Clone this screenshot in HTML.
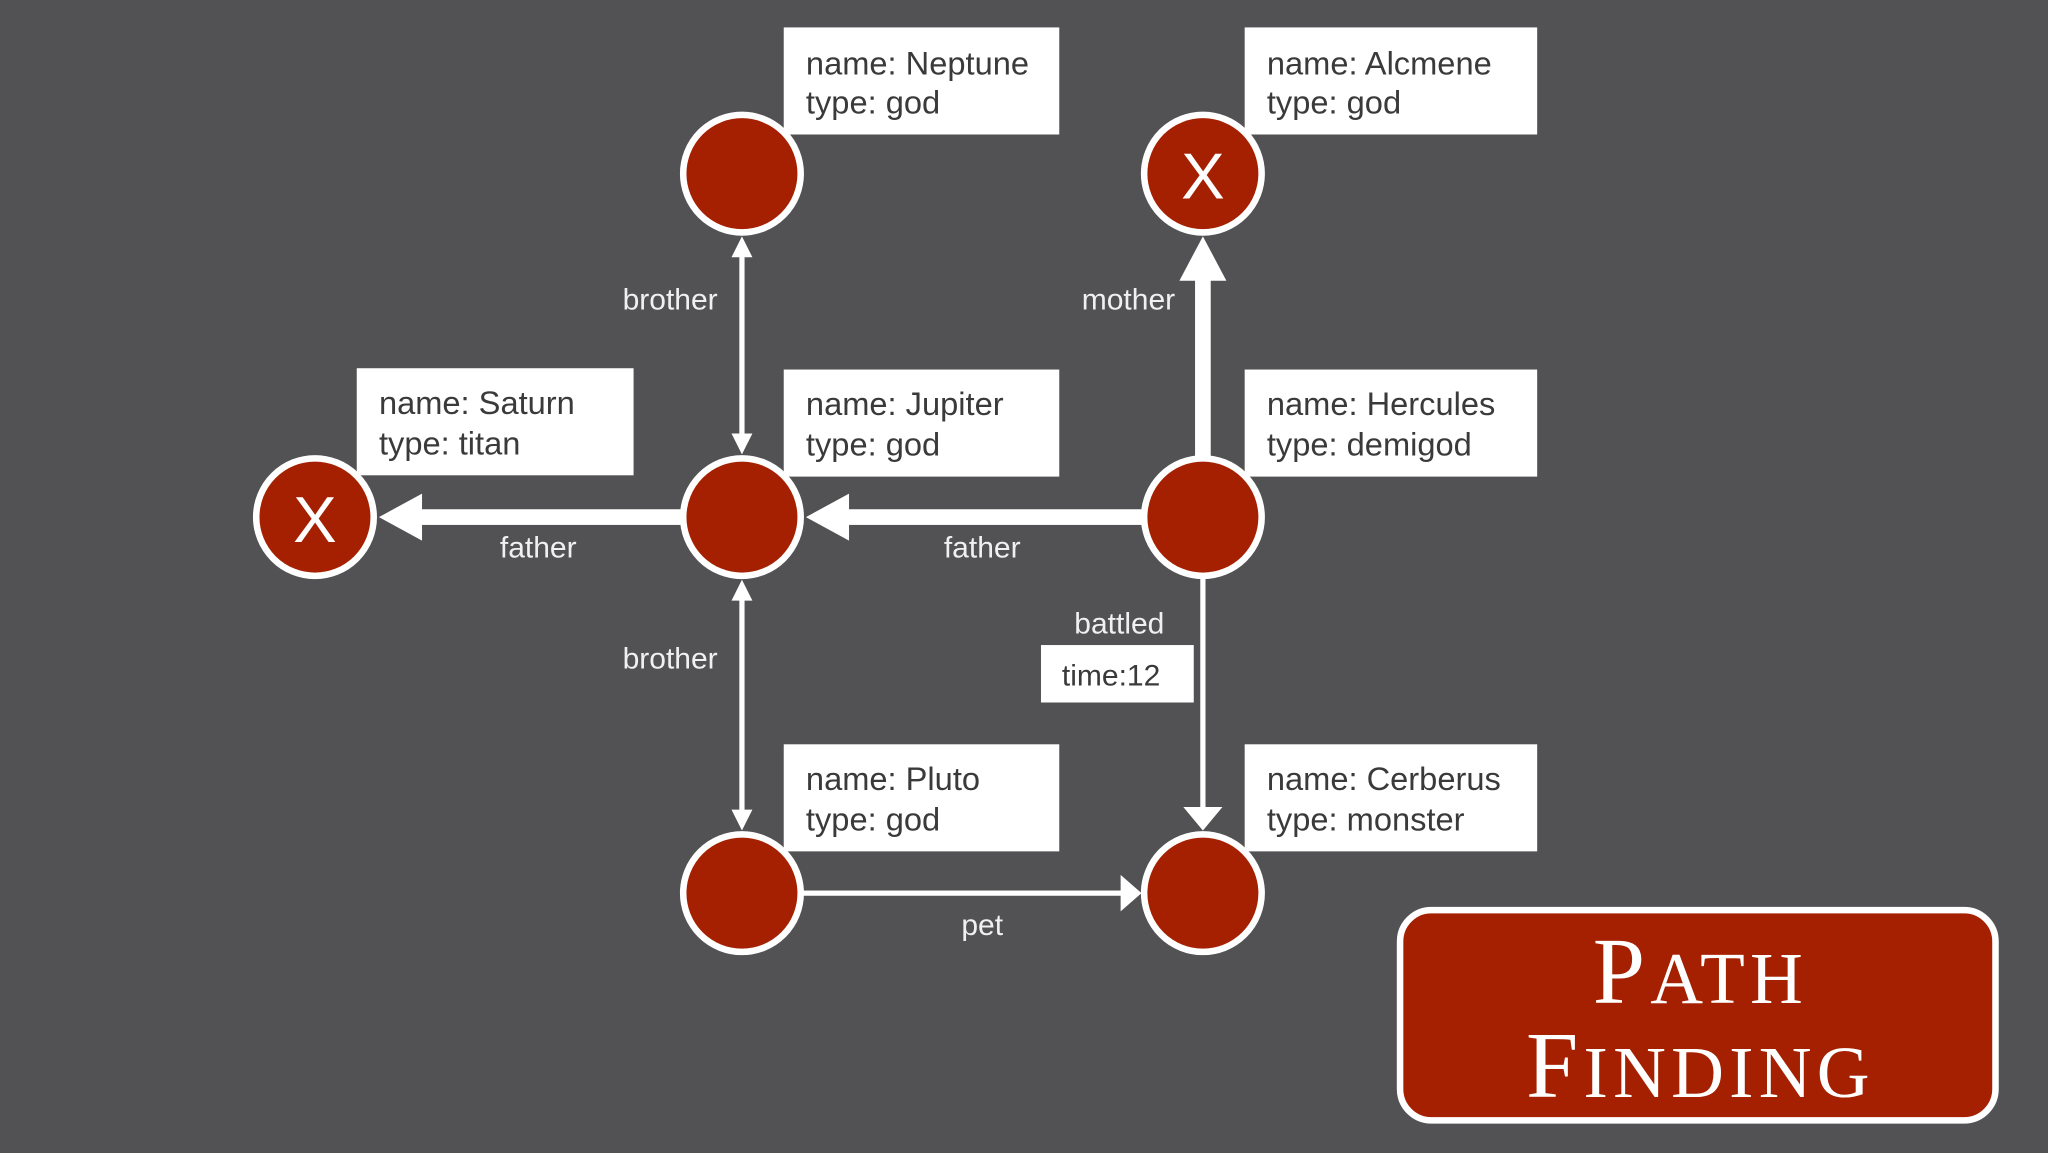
<!DOCTYPE html>
<html><head><meta charset="utf-8"><style>html,body{margin:0;padding:0;background:#525153;overflow:hidden}svg{display:block}</style></head>
<body>
<svg width="2048" height="1153" viewBox="0 0 1568 883" xmlns="http://www.w3.org/2000/svg">
<rect width="1568" height="883" fill="#525153"/>
<g fill="#fff" stroke="none">
<!-- thick arrows -->
<rect x="318" y="390" width="205" height="12"/>
<polygon points="290,396 323,378 323,414"/>
<rect x="645" y="390" width="232" height="12"/>
<polygon points="617,396 650,378 650,414"/>
<rect x="915" y="210" width="12" height="142"/>
<polygon points="921,181 903,215 939,215"/>
<!-- thin -->
<rect x="566" y="195" width="4" height="140"/>
<polygon points="568,181 560,197 576,197"/>
<polygon points="568,348 560,332 576,332"/>
<rect x="566" y="458" width="4" height="165"/>
<polygon points="568,444 560,460 576,460"/>
<polygon points="568,636 560,620 576,620"/>
<rect x="919" y="443" width="4" height="180"/>
<polygon points="921,636 906,618 936,618"/>
<rect x="614" y="682" width="246" height="4"/>
<polygon points="874,684 858,670 858,698"/>
</g>
<g fill="#a52000" stroke="#fff" stroke-width="5">
<circle cx="568" cy="133" r="45"/>
<circle cx="921" cy="133" r="45"/>
<circle cx="241" cy="396" r="45"/>
<circle cx="568" cy="396" r="45"/>
<circle cx="921" cy="396" r="45"/>
<circle cx="568" cy="684" r="45"/>
<circle cx="921" cy="684" r="45"/>
</g>
<g font-family="Liberation Sans, sans-serif" font-size="50" fill="#fff" text-anchor="middle">
<text x="921" y="152">X</text>
<text x="241" y="415">X</text>
</g>
<g fill="#fff">
<rect x="600" y="21" width="211" height="82"/>
<rect x="953" y="21" width="224" height="82"/>
<rect x="273" y="282" width="212" height="82"/>
<rect x="600" y="283" width="211" height="82"/>
<rect x="953" y="283" width="224" height="82"/>
<rect x="600" y="570" width="211" height="82"/>
<rect x="953" y="570" width="224" height="82"/>
<rect x="797" y="494" width="117" height="44"/>
</g>
<g font-family="Liberation Sans, sans-serif" font-size="25" fill="#3a3a3a">
<text x="617" y="57">name: Neptune</text><text x="617" y="87">type: god</text>
<text x="970" y="57">name: Alcmene</text><text x="970" y="87">type: god</text>
<text x="290" y="317">name: Saturn</text><text x="290" y="348">type: titan</text>
<text x="617" y="318">name: Jupiter</text><text x="617" y="349">type: god</text>
<text x="970" y="318">name: Hercules</text><text x="970" y="349">type: demigod</text>
<text x="617" y="605">name: Pluto</text><text x="617" y="636">type: god</text>
<text x="970" y="605">name: Cerberus</text><text x="970" y="636">type: monster</text>
<text x="813" y="525" font-size="23">time:12</text>
</g>
<g font-family="Liberation Sans, sans-serif" font-size="23" fill="#f0f0f0" text-anchor="middle">
<text x="513" y="237">brother</text>
<text x="864" y="237">mother</text>
<text x="412" y="427">father</text>
<text x="752" y="427">father</text>
<text x="857" y="485">battled</text>
<text x="513" y="512">brother</text>
<text x="752" y="716">pet</text>
</g>
<rect x="1072" y="697" width="456" height="161" rx="24" fill="#a52000" stroke="#fff" stroke-width="5"/>
<g font-family="Liberation Serif, serif" fill="#fff" text-anchor="middle" letter-spacing="4">
<text x="1302" y="768"><tspan font-size="72">P</tspan><tspan font-size="56">ATH</tspan></text>
<text x="1302" y="840"><tspan font-size="72">F</tspan><tspan font-size="56">INDING</tspan></text>
</g>
</svg>
</body></html>
